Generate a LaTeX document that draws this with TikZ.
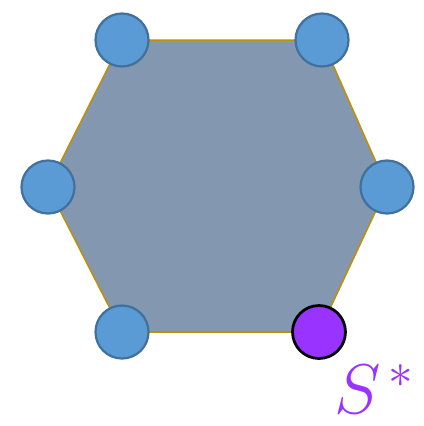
\RequirePackage{fix-cm}
\documentclass[tikz,border=0pt]{standalone}
\usepackage{tikz}
\usetikzlibrary{positioning}
\definecolor{hexfill}{HTML}{8497B0}
\definecolor{hexedge}{HTML}{BF9000}
\definecolor{vertblue}{HTML}{5B9BD5}
\definecolor{vertedge}{HTML}{41719C}
\definecolor{starpurple}{HTML}{9933FF}

\begin{document}
\begin{tikzpicture}[x=0.02cm, y=-0.02cm,
  vert/.style={circle, fill=vertblue, draw=vertedge, line width=0.045cm, minimum size=1.06cm, inner sep=0pt},
  special/.style={circle, fill=starpurple, draw=black, line width=0.055cm, minimum size=1.06cm, inner sep=0pt}]
\useasboundingbox (0,0) rectangle (423,426);
\coordinate (p1) at (122,40); \coordinate (p2) at (322,40); \coordinate (p3) at (387,187);
\coordinate (p4) at (319,332); \coordinate (p5) at (122,332); \coordinate (p6) at (48,187);
\draw[fill=hexfill, draw=hexedge, line width=0.03cm, line join=round] (p1) -- (p2) -- (p3) -- (p4) -- (p5) -- (p6) -- cycle;
\foreach \i in {1,2,3,5,6} \node[vert] (v\i) at (p\i) {};
\node[special] (v4) at (p4) {};
\node[anchor=base west, inner sep=0pt, text=starpurple, font=\fontsize{40}{40}\selectfont] (sstar) at (334,413) {$S^{\,*}$};
\end{tikzpicture}
\end{document}
